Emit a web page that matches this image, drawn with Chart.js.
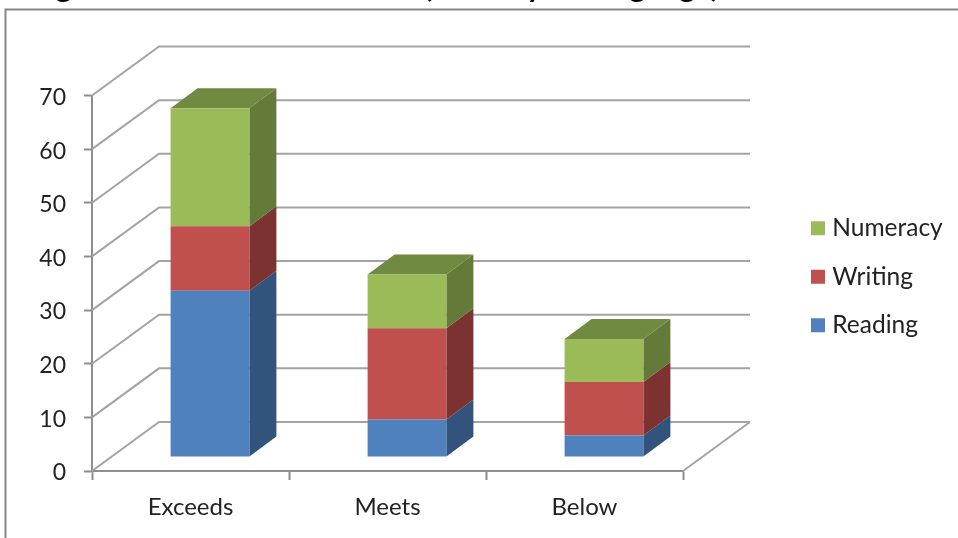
<!DOCTYPE html>
<html>
<head>
<meta charset="utf-8">
<title>Achievement by strand</title>
<style>
  html, body { margin: 0; padding: 0; background: #fff; overflow: hidden; }
  canvas { display: block; }
</style>
<script src="https://cdn.jsdelivr.net/npm/chart.js@4"></script>
</head>
<body>
<canvas id="myChart" width="958" height="538"></canvas>
<script>
'use strict';

const categories = ['Exceeds', 'Meets', 'Below'];
const reading = [31, 7, 4];
const writing = [12, 17, 10];
const numeracy = [22, 10, 8];
const yTicks = [0, 10, 20, 30, 40, 50, 60, 70];

// bar depth and wall depth, in pixels
const wallDepth = { x: 67, y: -49 };
const barDepth = { x: 27, y: -20 };
const barShift = { x: 19.5, y: -14 };

const gridColor = '#a3a3a3';
const axisColor = '#8e8e8e';
const sideColors = ['#31537c', '#7b3230', '#647a39'];
const topColor = '#718a41';

function quad(ctx, pts, fill) {
    ctx.beginPath();
    ctx.moveTo(pts[0][0], pts[0][1]);
    for (let i = 1; i < pts.length; i++) ctx.lineTo(pts[i][0], pts[i][1]);
    ctx.closePath();
    ctx.fillStyle = fill;
    ctx.fill();
}

// walls, floor and the side/top faces of the stacks
const boxPlugin = {
    id: 'box',
    beforeDraw(chart) {
        const ctx = chart.ctx;
        ctx.save();
        // frame around the chart
        ctx.strokeStyle = '#868686';
        ctx.lineWidth = 2;
        ctx.beginPath();
        ctx.moveTo(5.5, 538);
        ctx.lineTo(5.5, 9.5);
        ctx.lineTo(958, 9.5);
        ctx.stroke();

        // heading, sits mostly above the frame
        ctx.fillStyle = '#000';
        ctx.font = 'bold 31px Lato';
        ctx.textBaseline = 'alphabetic';
        ctx.fillText('Figure 1: Student Outcomes (Literacy & Language)', 30, -3);
        ctx.restore();
    },
    afterLayout(chart) {
        // legend sits beside the box, not in its own layout column
        const legend = chart.legend;
        const w = legend.width, h = legend.height;
        legend.left = 792;
        legend.right = legend.left + w;
        legend.top = 192;
        legend.bottom = legend.top + h;
    },
    beforeDatasetsDraw(chart) {
        const ctx = chart.ctx;
        const area = chart.chartArea;
        const y = chart.scales.y;
        ctx.save();
        ctx.strokeStyle = gridColor;
        ctx.lineWidth = 2;
        yTicks.forEach(function (t) {
            const py = y.getPixelForValue(t);
            ctx.beginPath();
            ctx.moveTo(area.left, py);
            ctx.lineTo(area.left + wallDepth.x, py + wallDepth.y);
            ctx.lineTo(area.right + wallDepth.x, py + wallDepth.y);
            ctx.stroke();
        });
        // floor, right edge
        ctx.beginPath();
        ctx.moveTo(area.right, area.bottom);
        ctx.lineTo(area.right + wallDepth.x, area.bottom + wallDepth.y);
        ctx.stroke();

        // side faces bottom to top, then the cap on the last series
        chart.data.datasets.forEach(function (ds, di) {
            chart.getDatasetMeta(di).data.forEach(function (bar) {
                const p = bar.getProps(['x', 'y', 'base', 'width'], true);
                const r = p.x + p.width / 2 + barShift.x;
                const l = p.x - p.width / 2 + barShift.x;
                const t = p.y + barShift.y;
                const b = p.base + barShift.y;
                quad(ctx, [[r, t], [r + barDepth.x, t + barDepth.y],
                    [r + barDepth.x, b + barDepth.y], [r, b]], sideColors[di]);
                if (di === chart.data.datasets.length - 1) {
                    quad(ctx, [[l, t], [l + barDepth.x, t + barDepth.y],
                        [r + barDepth.x, t + barDepth.y], [r, t]], topColor);
                }
            });
        });
        ctx.restore();
    },
    // front faces are pushed back into the box
    beforeDatasetDraw(chart) {
        chart.ctx.save();
        chart.ctx.translate(barShift.x, barShift.y);
    },
    afterDatasetDraw(chart) {
        chart.ctx.restore();
    }
};

const config = {
    type: 'bar',
    data: {
        labels: categories,
        datasets: [
            { label: 'Reading', data: reading, backgroundColor: '#4f81bd' },
            { label: 'Writing', data: writing, backgroundColor: '#c0504d' },
            { label: 'Numeracy', data: numeracy, backgroundColor: '#9bbb59' }
        ]
    },
    options: {
        responsive: false,
        animation: false,
        layout: { padding: { left: 0, right: 275, top: 95.5, bottom: 0 } },
        datasets: { bar: { barPercentage: 0.4, categoryPercentage: 1 } },
        plugins: {
            tooltip: { enabled: false },
            legend: {
                position: 'chartArea',
                align: 'start',
                reverse: true,
                labels: {
                    // narrow box width keeps the text close to the swatch
                    usePointStyle: true,
                    pointStyle: 'rect',
                    boxWidth: 4,
                    boxHeight: 14,
                    padding: 24,
                    color: '#222',
                    font: { family: 'Lato', size: 24.5 }
                }
            }
        },
        scales: {
            x: {
                stacked: true,
                afterFit(scale) { scale.height = 67; },
                border: { color: axisColor, width: 2 },
                grid: { drawOnChartArea: false, tickLength: 9, tickColor: axisColor, tickWidth: 2, offset: true },
                ticks: { color: '#222', padding: 13, maxRotation: 0, font: { family: 'Lato', size: 24 } }
            },
            y: {
                stacked: true,
                min: 0,
                max: 70,
                afterFit(scale) { scale.width = 92; },
                afterBuildTicks(scale) { scale.ticks = yTicks.map(function (v) { return { value: v }; }); },
                border: { color: axisColor, width: 2 },
                grid: { drawOnChartArea: false, tickLength: 8, tickColor: axisColor, tickWidth: 2 },
                ticks: { color: '#222', padding: 18, labelOffset: 2, font: { family: 'Lato', size: 23 } }
            }
        }
    },
    plugins: [boxPlugin]
};

var myChart = new Chart(document.getElementById('myChart'), config);
</script>
</body>
</html>
